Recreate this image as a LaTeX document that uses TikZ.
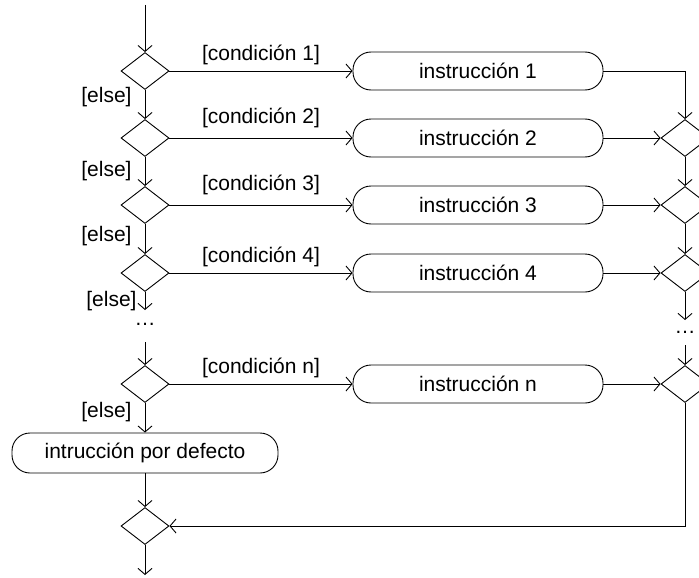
\documentclass[tikz,border=0pt]{standalone}
\usepackage{fontspec}
\setmainfont{Liberation Sans}
\usetikzlibrary{shapes.geometric,arrows.meta}

\tikzset{
  plain/.style={line width=.9pt},
  flow/.style={line width=.9pt,-{Straight Barb[length=6pt,width=14pt,line width=.9pt]}},
  branch/.style={shape=diamond,draw,line width=.9pt,minimum width=48pt,minimum height=37pt,inner sep=0pt},
  action/.style={draw,line width=.9pt,rounded corners=18pt,minimum height=38pt,minimum width=250pt,inner sep=0pt},
  guard/.style={midway,above=#1,inner sep=1pt},
  guard/.default=5pt,
  elsetext/.style={left=#1,inner sep=1pt},
  elsetext/.default=12pt,
}

\begin{document}
\begin{tikzpicture}[x=1pt,y=-1pt,font=\fontsize{21}{25}\selectfont]
\path[use as bounding box] (0,0) rectangle (699,578);
\clip (0,0) rectangle (699,578);

% left column: decisions
\coordinate (start) at (145,5);
\node[branch] (d1) at (145,71) {};
\node[branch] (d2) at (145,138) {};
\node[branch] (d3) at (145,205) {};
\node[branch] (d4) at (145,273) {};
\coordinate (gapL1) at (145,310);
\node (dotsL) at (145,324) {…};
\coordinate (gapL2) at (145,342);
\node[branch] (dn) at (145,384) {};
\node[draw,line width=.9pt,rounded corners=18pt,minimum height=40pt,minimum width=266pt,inner sep=0pt] (dflt) at (145,453) {intrucción por defecto};
\node[branch] (fin) at (145,526) {};
\coordinate (end) at (145,575);

% middle column: instructions
\node[action] (i1) at (478,71) {instrucción 1};
\node[action] (i2) at (478,138) {instrucción 2};
\node[action] (i3) at (478,205) {instrucción 3};
\node[action] (i4) at (478,273) {instrucción 4};
\node[action] (in) at (478,384) {instrucción n};

% right column: merges
\node[branch] (r2) at (685,138) {};
\node[branch] (r3) at (685,205) {};
\node[branch] (r4) at (685,273) {};
\coordinate (gapR1) at (685,320);
\node (dotsR) at (685,332) {…};
\coordinate (gapR2) at (685,345);
\node[branch] (rn) at (685,384) {};

% else chain
\draw[flow] (start) -- (d1.north);
\draw[flow] (d1.south) -- node[elsetext,pos=.26] {[else]} (d2.north);
\draw[flow] (d2.south) -- node[elsetext,pos=.5] {[else]} (d3.north);
\draw[flow] (d3.south) -- node[elsetext,pos=.4] {[else]} (d4.north);
\draw[flow] (d4.south) -- node[elsetext=7pt,pos=.5] {[else]} (gapL1);
\draw[flow] (gapL2) -- (dn.north);
\draw[flow] (dn.south) -- node[elsetext,pos=.3] {[else]} (dflt.north);
\draw[flow] (dflt.south) -- (fin.north);
\draw[flow] (fin.south) -- (end);

% guarded branches
\draw[flow] (d1.east) -- node[guard] {[condición 1]} (i1.west);
\draw[flow] (d2.east) -- node[guard=9pt] {[condición 2]} (i2.west);
\draw[flow] (d3.east) -- node[guard=9pt] {[condición 3]} (i3.west);
\draw[flow] (d4.east) -- node[guard] {[condición 4]} (i4.west);
\draw[flow] (dn.east) -- node[guard] {[condición n]} (in.west);

% merging
\draw[flow] (i1.east) -| (r2.north);
\draw[flow] (i2.east) -- (r2.west);
\draw[flow] (i3.east) -- (r3.west);
\draw[flow] (i4.east) -- (r4.west);
\draw[flow] (in.east) -- (rn.west);
\draw[flow] (r2.south) -- (r3.north);
\draw[flow] (r3.south) -- (r4.north);
\draw[flow] (r4.south) -- (gapR1);
\draw[flow] (gapR2) -- (rn.north);
\draw[flow] (rn.south) |- (fin.east);
\end{tikzpicture}
\end{document}
